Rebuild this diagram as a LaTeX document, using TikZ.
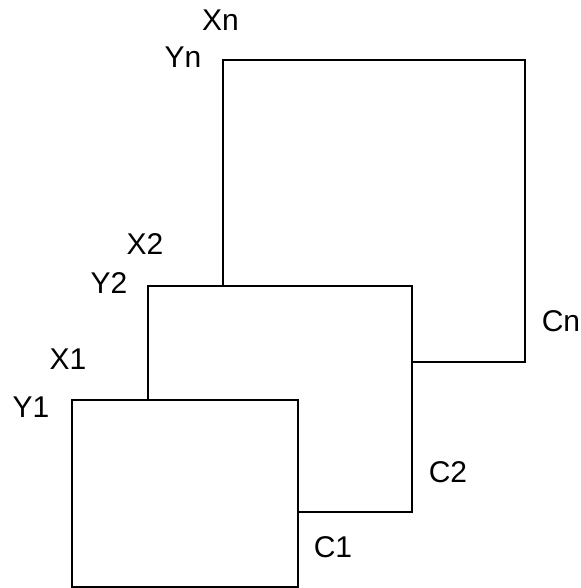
\documentclass[tikz,border=0pt]{standalone}
\usepackage{fontspec}
\setmainfont{Liberation Sans}
\begin{document}
\begin{tikzpicture}[x=1pt,y=-1pt,
  box/.style={draw=black,fill=white,line width=2pt,inner sep=0pt,anchor=north west},
  lbl/.style={font=\fontsize{30}{34}\selectfont,inner sep=0pt}]
\useasboundingbox (0,0) rectangle (580,588);
% back to front
\node[box,minimum width=302pt,minimum height=302pt] (bn) at (222,59) {};
\node[box,minimum width=264pt,minimum height=226pt] (b2) at (147,285) {};
\node[box,minimum width=226pt,minimum height=187pt] (b1) at (71,399) {};
% labels
\node[lbl] (xn) at (220.5,20) {Xn};
\node[lbl] (yn) at (183,57) {Yn};
\node[lbl] (x2) at (145,244) {X2};
\node[lbl] (y2) at (109,283) {Y2};
\node[lbl] (x1) at (68,359) {X1};
\node[lbl] (y1) at (31,407) {Y1};
\node[lbl] (cn) at (561,321) {Cn};
\node[lbl] (c2) at (448,472) {C2};
\node[lbl] (c1) at (333,547) {C1};
\end{tikzpicture}
\end{document}
